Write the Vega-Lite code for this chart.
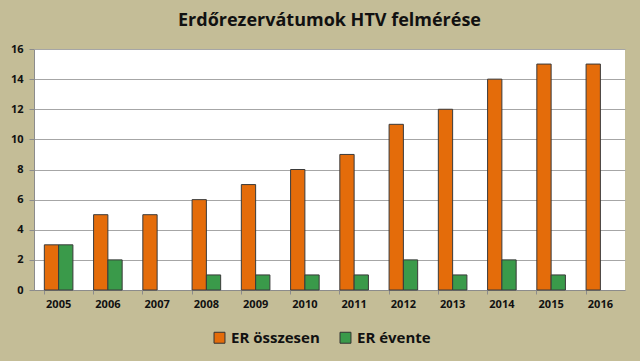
{
  "$schema": "https://vega.github.io/schema/vega-lite/v6.json",
  "width": 591,
  "height": 241,
  "autosize": {"type": "none"},
  "padding": {"left": 34, "top": 49, "right": 15, "bottom": 71},
  "background": "#C4BD97",
  "title": {"text": "Erdőrezervátumok HTV felmérése", "fontSize": 18, "font": "Open Sans", "fontWeight": "bold", "color": "#111111", "anchor": "middle", "offset": 13},
  "data": {"values": [
    {"year": "2005", "series": "ER összesen", "value": 3},
    {"year": "2006", "series": "ER összesen", "value": 5},
    {"year": "2007", "series": "ER összesen", "value": 5},
    {"year": "2008", "series": "ER összesen", "value": 6},
    {"year": "2009", "series": "ER összesen", "value": 7},
    {"year": "2010", "series": "ER összesen", "value": 8},
    {"year": "2011", "series": "ER összesen", "value": 9},
    {"year": "2012", "series": "ER összesen", "value": 11},
    {"year": "2013", "series": "ER összesen", "value": 12},
    {"year": "2014", "series": "ER összesen", "value": 14},
    {"year": "2015", "series": "ER összesen", "value": 15},
    {"year": "2016", "series": "ER összesen", "value": 15},
    {"year": "2005", "series": "ER évente", "value": 3},
    {"year": "2006", "series": "ER évente", "value": 2},
    {"year": "2008", "series": "ER évente", "value": 1},
    {"year": "2009", "series": "ER évente", "value": 1},
    {"year": "2010", "series": "ER évente", "value": 1},
    {"year": "2011", "series": "ER évente", "value": 1},
    {"year": "2012", "series": "ER évente", "value": 2},
    {"year": "2013", "series": "ER évente", "value": 1},
    {"year": "2014", "series": "ER évente", "value": 2},
    {"year": "2015", "series": "ER évente", "value": 1}
  ]},
  "config": {
    "view": {"fill": "#FFFFFF", "stroke": null},
    "axis": {"labelFont": "Open Sans", "labelFontWeight": "bold", "labelFontSize": 11, "labelColor": "#111111", "domainColor": "#8C8C8C", "tickColor": "#8C8C8C", "gridColor": "#A6A6A6"}
  },
  "mark": {"type": "bar", "stroke": "#3A3A3A", "strokeWidth": 1},
  "encoding": {
    "x": {"field": "year", "type": "nominal", "title": null,
      "scale": {"paddingInner": 0.42, "paddingOuter": 0.21},
      "axis": {"labelAngle": 0, "bandPosition": 0, "tickSize": 4, "labelPadding": 4, "grid": false}},
    "xOffset": {"field": "series", "type": "nominal", "scale": {"domain": ["ER összesen", "ER évente"]}},
    "y": {"field": "value", "type": "quantitative", "title": null,
      "scale": {"domain": [0, 16]},
      "axis": {"values": [0, 2, 4, 6, 8, 10, 12, 14, 16], "tickSize": 5, "labelPadding": 6, "grid": true}},
    "color": {"field": "series", "type": "nominal",
      "scale": {"domain": ["ER összesen", "ER évente"], "range": ["#E46C0A", "#3A9A4A"]},
      "legend": {"orient": "none", "legendX": 178, "legendY": 281, "direction": "horizontal", "title": null, "symbolType": "square", "symbolSize": 120, "symbolStrokeColor": "#333333", "symbolStrokeWidth": 1, "labelFont": "Open Sans", "labelFontSize": 15, "labelFontWeight": "bold", "labelColor": "#111111", "columnPadding": 18, "symbolOpacity": 1}}
  }
}
